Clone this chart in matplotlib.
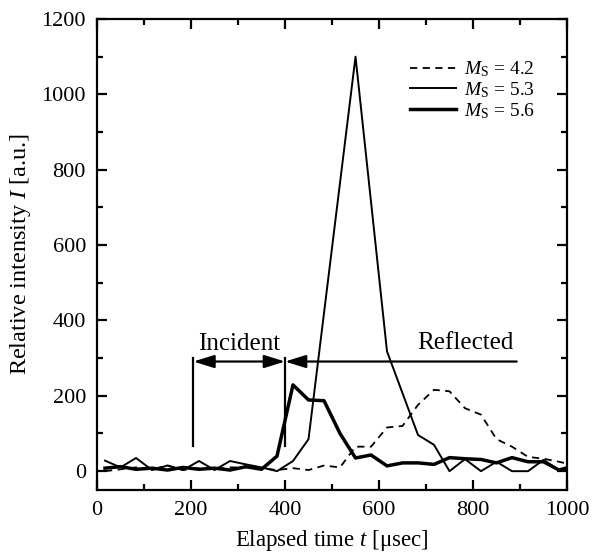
import matplotlib
matplotlib.use('Agg')
import matplotlib.pyplot as plt
from matplotlib.ticker import MultipleLocator

plt.rcParams['font.family'] = ['Liberation Serif', 'DejaVu Serif']
plt.rcParams['mathtext.fontset'] = 'custom'
plt.rcParams['mathtext.rm'] = 'Liberation Serif'
plt.rcParams['mathtext.it'] = 'Liberation Serif:italic'

# sampling times [usec]
t = [17, 50, 83, 117, 150, 183, 217, 250, 283, 317, 350, 383, 417, 450, 483, 517,
     550, 583, 617, 650, 683, 717, 750, 783, 817, 850, 883, 917, 950, 983, 1017]

# Ms = 4.2 (dashed)
i_42 = [0, 5, 10, 5, 15, 3, 8, 5, 10, 10, 8, 3, 8, 3, 15, 10,
        65, 65, 116, 120, 176, 216, 212, 167, 150, 85, 65, 38, 33, 25, 15]

# Ms = 5.3 (thin solid)
t_53 = [17, 50, 83, 117, 150, 183, 217, 250, 283, 317, 350, 383, 417, 450,
        550, 617, 683, 717, 750, 783, 817, 850, 883, 917, 950, 983, 1017]
i_53 = [28, 10, 35, 3, 15, 3, 27, 3, 27, 18, 10, 0, 27, 85,
        1100, 318, 96, 70, 0, 32, 0, 25, 0, 0, 30, 3, 15]

# Ms = 5.6 (thick solid)
i_56 = [8, 12, 5, 8, 3, 10, 5, 8, 3, 12, 5, 40, 229, 189, 187, 100,
        35, 43, 14, 22, 22, 18, 36, 33, 31, 22, 36, 25, 25, 3, 15]

fig = plt.figure(figsize=(6, 5.59), dpi=100)
ax = fig.add_axes([0.1617, 0.1234, 0.7833, 0.8426])

ax.plot(t, i_42, color='black', lw=1.3, ls=(0, (4, 3)), label=r'$M_\mathrm{S}$ = 4.2')
ax.plot(t_53, i_53, color='black', lw=1.4, label=r'$M_\mathrm{S}$ = 5.3')
ax.plot(t, i_56, color='black', lw=2.5, label=r'$M_\mathrm{S}$ = 5.6')

# incident / reflected markers
ax.plot([205, 205], [67, 300], color='black', lw=1.6)
ax.plot([400, 400], [67, 300], color='black', lw=1.6)
ax.annotate('', xy=(400, 291), xytext=(205, 291),
            arrowprops=dict(arrowstyle='<|-|>,head_length=0.9,head_width=0.28',
                            color='black', lw=1.6, shrinkA=0, shrinkB=0, mutation_scale=14))
ax.annotate('', xy=(400, 291), xytext=(893, 291),
            arrowprops=dict(arrowstyle='-|>,head_length=0.9,head_width=0.28',
                            color='black', lw=1.6, shrinkA=0, shrinkB=0, mutation_scale=14))
ax.text(302, 338, 'Incident', fontsize=18, ha='center', va='center')
ax.text(783, 341, 'Reflected', fontsize=18, ha='center', va='center')

ax.set_xlim(0, 1000)
ax.set_ylim(-50, 1200)
ax.xaxis.set_major_locator(MultipleLocator(200))
ax.xaxis.set_minor_locator(MultipleLocator(100))
ax.yaxis.set_major_locator(MultipleLocator(200))
ax.yaxis.set_minor_locator(MultipleLocator(100))
ax.tick_params(which='both', direction='in', top=True, right=True, width=1.6, labelsize=16)
ax.tick_params(which='major', length=7, pad=8)
ax.tick_params(which='minor', length=4)
for s in ax.spines.values():
    s.set_linewidth(1.6)

ax.set_xlabel(r'Elapsed time $t$ [$\mathrm{\mu}$sec]', fontsize=16.5, labelpad=6)
ax.set_ylabel(r'Relative intensity $I$ [a.u.]', fontsize=17.5, labelpad=6)

ax.legend(loc='center left', bbox_to_anchor=(0.665, 0.849), frameon=False, fontsize=14,
          handlelength=2.4, handletextpad=0.4, labelspacing=0.05, borderpad=0, borderaxespad=0)

fig.savefig('out.png', dpi=100)
